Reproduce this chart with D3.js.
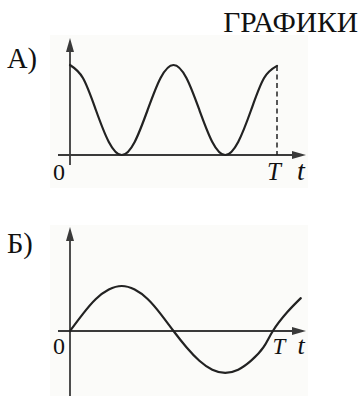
<!DOCTYPE html>
<html>
<head>
<meta charset="utf-8">
<script src="https://cdn.jsdelivr.net/npm/d3@7"></script>
<style>
  html, body { margin: 0; padding: 0; background: #ffffff; }
  svg { display: block; }
  text { font-family: "Liberation Serif", "Times New Roman", serif; fill: #111; }
</style>
</head>
<body>
<svg id="chart" width="361" height="396"></svg>
<script>
// ---- data ----
const title = "ГРАФИКИ";
const panelLabels = ["А)", "Б)"];
const originLabel = "0";
const periodLabel = "T";
const axisLabel = "t";

// Panel A: t (in units of T) and value
const tA = [0, 0.0625, 0.125, 0.1875, 0.25, 0.3125, 0.375, 0.4375, 0.5,
            0.5625, 0.625, 0.6875, 0.75, 0.8125, 0.875, 0.9375, 1.0];
const vA = [2.0, 1.71, 1.0, 0.29, 0.0, 0.29, 1.0, 1.71, 2.0,
            1.71, 1.0, 0.29, 0.0, 0.29, 1.0, 1.71, 1.98];

// Panel Б
const tB = [0, 0.0625, 0.125, 0.1875, 0.25, 0.3125, 0.375, 0.4375, 0.5,
            0.5625, 0.625, 0.6875, 0.75, 0.8125, 0.875, 0.935, 0.98, 1.05, 1.115];
const vB = [0, 0.38, 0.71, 0.92, 1.0, 0.92, 0.71, 0.38, 0,
            -0.36, -0.66, -0.86, -0.93, -0.86, -0.66, -0.36, 0, 0.42, 0.73];

// ---- drawing ----
const svg = d3.select("#chart");
const ink = "#222";
const axisInk = "#3a3a3a";

const x = d3.scaleLinear().domain([0, 1]).range([70, 277]);
const yA = d3.scaleLinear().domain([0, 2]).range([155, 65]);
const yB = d3.scaleLinear().domain([-1, 1]).range([376, 286]);

// faint paper boxes
svg.append("rect").attr("x", 50).attr("y", 35).attr("width", 258).attr("height", 153).attr("fill", "#fbfbf9");
svg.append("rect").attr("x", 50).attr("y", 225).attr("width", 258).attr("height", 171).attr("fill", "#fbfbf9");

function arrow(g, xt, yt, dir) {
  let p;
  if (dir === "up") p = [[xt, yt], [xt - 4, yt + 14], [xt + 4, yt + 14]];
  else p = [[xt, yt], [xt - 14, yt - 4], [xt - 14, yt + 4]];
  g.append("path").attr("d", "M" + p.map(d => d.join(",")).join("L") + "Z").attr("fill", axisInk);
}

function panel(y, tArr, vArr, yTop, yBottom, xLeft, label, labelY, zeroLabelY, tLabelX, tSize, dashed) {
  const g = svg.append("g");
  const x0 = x(0), y0 = y(0);
  g.append("line").attr("x1", x0).attr("x2", x0).attr("y1", y(yTop) + 8).attr("y2", y(yBottom))
    .attr("stroke", axisInk).attr("stroke-width", 1.8);
  g.append("line").attr("x1", x(xLeft)).attr("x2", x(1.14) - 8).attr("y1", y0).attr("y2", y0)
    .attr("stroke", axisInk).attr("stroke-width", 1.8);
  arrow(g, x0, y(yTop), "up");
  arrow(g, x(1.14), y0, "right");

  if (dashed) {
    g.append("line").attr("x1", x(1)).attr("x2", x(1)).attr("y1", y(vArr[vArr.length - 1])).attr("y2", y0)
      .attr("stroke", ink).attr("stroke-width", 1.5).attr("stroke-dasharray", "5,3.5");
  }

  const line = d3.line().x((d, i) => x(tArr[i])).y(d => y(d)).curve(d3.curveNatural);
  g.append("path").datum(vArr).attr("d", line)
    .attr("fill", "none").attr("stroke", ink).attr("stroke-width", 2.2).attr("stroke-linecap", "round");

  g.append("text").attr("x", 7).attr("y", labelY).attr("font-size", 28.5).text(label);
  g.append("text").attr("x", 59).attr("y", zeroLabelY).attr("text-anchor", "middle").attr("font-size", 24).text(originLabel);
  g.append("text").attr("x", tLabelX).attr("y", zeroLabelY).attr("text-anchor", "middle")
    .attr("font-size", tSize).attr("font-style", "italic").text(periodLabel);
  g.append("text").attr("x", 301).attr("y", zeroLabelY).attr("text-anchor", "middle")
    .attr("font-size", tSize + 3).attr("font-style", "italic").text(axisLabel);
}

panel(yA, tA, vA, 2.6, -0.22, -0.058, panelLabels[0], 68, 180, 274, 25, true);
panel(yB, tB, vB, 2.31, -1.6, -0.058, panelLabels[1], 253, 354, 279, 23, false);

svg.append("text").attr("x", 358).attr("y", 32).attr("text-anchor", "end").attr("font-size", 29.5).text(title);
</script>
</body>
</html>
